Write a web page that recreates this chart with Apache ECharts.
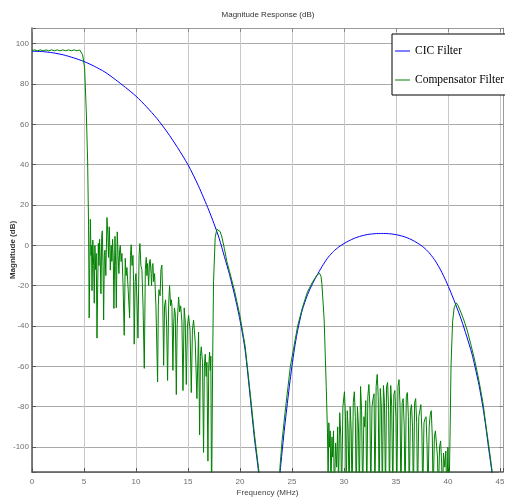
<!DOCTYPE html>
<html><head><meta charset="utf-8">
<script src="https://cdn.jsdelivr.net/npm/echarts@6/dist/echarts.min.js"></script>
<style>html,body{margin:0;padding:0;background:#fff}#c{width:505px;height:497px}</style>
</head><body><div id="c"></div>
<script>
// Tick labels
const xTicks = [0,5,10,15,20,25,30,35,40,45];
const yTicks = [-100,-80,-60,-40,-20,0,20,40,60,80,100];
const seriesNames = ['CIC Filter','Compensator Filter'];

// CIC filter magnitude response [frequency MHz, dB]
const cicResponse = [
[0,96.3],[1,96.1],[2,95.5],[3,94.5],[4,93.0],[5,91.2],[6,88.8],[7,86.0],[8,82.3],[9,78.3],
[10,74.0],[11,68.8],[12,63.0],[13,56.2],[14,48.5],[15,40.0],[16,29.6],[17,17.5],[17.5,10.8],[18,3.5],
[18.5,-5.5],[19,-14.5],[19.5,-25],[20,-37],[20.5,-52],[21,-76],[21.4,-96],[21.8,-113],[22.0,-126],
[23.7,-122],[23.85,-113],[24.1,-100],[24.3,-90],[24.5,-81],[24.75,-70],[25.0,-60],[25.25,-51],[25.5,-43.5],
[25.7,-38.5],[26.0,-32],[26.5,-24.5],[27.0,-18.8],[27.5,-14],[28.0,-9.6],[28.5,-5.8],[29.0,-3.0],[29.5,-0.8],
[30.0,0.9],[30.5,2.3],[31.0,3.5],[31.5,4.4],[32.0,5.1],[32.5,5.55],[33.0,5.8],[33.65,5.9],[34.3,5.8],
[34.8,5.5],[35.3,5.0],[35.8,4.3],[36.3,3.3],[36.8,2.0],[37.3,0.4],[37.8,-1.6],[38.3,-4.3],[38.8,-7.8],
[39.3,-12.2],[39.8,-17.5],[40.3,-23.5],[40.8,-30],[41.3,-37],[41.8,-45],[42.3,-53.5],[42.6,-60],[43.0,-69.5],
[43.36,-80],[43.65,-90],[43.9,-100],[44.25,-113],[44.5,-124]
];

// Compensator filter magnitude response [frequency MHz, dB]
const compResponse = [
[0,96.6],[0.27,96.95],[0.54,96.5],[0.81,96.95],[1.08,96.5],[1.35,96.95],[1.62,96.5],[1.89,96.95],[2.16,96.5],
[2.43,96.95],[2.7,96.5],[2.97,96.95],[3.24,96.5],[3.51,96.95],[3.78,96.5],[4.05,96.95],[4.32,96.5],[4.59,96.9],
[4.74,96.6],[4.87,94.5],[5.06,88],[5.22,66.6],[5.35,41.8],[5.44,10],[5.5,-36],[5.61,12.9],[5.68,-5],[5.73,0],
[5.77,-22.5],[5.85,2.6],[5.93,-10],[5.99,-28.7],[6.05,0],[6.12,-12],[6.18,-4],[6.25,-46],[6.38,1],[6.44,-10],
[6.5,3],[6.57,-8],[6.63,-24],[6.7,4],[6.76,7.2],[6.83,-10],[6.89,-37],[6.96,-5],[7.02,-2.4],[7.1,-15],
[7.21,13.8],[7.3,5],[7.36,-6],[7.43,9.2],[7.48,0],[7.53,-12.3],[7.62,0],[7.68,-8],[7.75,3],[7.82,-8],
[7.88,-31.3],[7.98,4.5],[8.05,-10],[8.11,-31],[8.2,6.7],[8.28,-5],[8.36,-14],[8.43,-2],[8.49,0],[8.57,-8],
[8.65,-4],[8.76,-20],[8.87,-44.6],[8.97,-6.4],[9.05,-15],[9.13,-11],[9.25,-22],[9.39,-36],[9.47,-5],[9.54,0.3],
[9.62,-10],[9.71,-5],[9.77,-18],[9.83,-49],[9.92,-18],[10,-14],[10.1,-28],[10.19,-46],[10.3,-5],[10.38,0.9],
[10.47,-10],[10.57,-12],[10.68,-30],[10.8,-61],[10.9,-12],[10.99,-6],[11.05,-15],[11.12,-9],[11.22,-20],
[11.3,-8],[11.37,-7],[11.45,-14],[11.5,-20],[11.57,-10],[11.63,-9],[11.7,-18],[11.79,-14],[11.92,-30],
[12.08,-67.7],[12.15,-30],[12.21,-22],[12.32,-25],[12.4,-12],[12.49,-9.8],[12.57,-25],[12.66,-59.5],
[12.75,-30],[12.85,-27],[12.95,-40],[13.04,-67],[13.14,-30],[13.23,-20],[13.33,-30],[13.4,-27],[13.46,-30],
[13.55,-62],[13.62,-40],[13.7,-31],[13.78,-34],[13.88,-74],[13.96,-40],[14.1,-25.6],[14.2,-33],[14.3,-30],
[14.42,-38],[14.52,-72],[14.64,-31],[14.74,-38],[14.84,-69],[14.95,-40],[15.06,-34.7],[15.2,-42],[15.32,-73],
[15.43,-42],[15.54,-37],[15.7,-48],[15.86,-76],[16.02,-43],[16.12,-94],[16.2,-55],[16.28,-50.3],[16.4,-58],
[16.5,-102.7],[16.58,-60],[16.66,-54],[16.75,-65],[16.82,-58],[16.92,-107],[17.0,-60],[17.08,-53],[17.15,-62],
[17.2,-55],[17.27,-130],[17.37,-60],[17.46,-18],[17.62,4],[17.78,8],[17.94,8.4],[18.1,6.8],[18.26,4.2],
[18.5,-1.5],[18.74,-8],[19.0,-13],[19.5,-23],[20,-35],[20.5,-50],[21,-74],[21.4,-94],[21.85,-113],[22.1,-130],
[23.75,-125],[23.85,-110],[24.05,-97],[24.4,-80],[24.85,-60],[25.55,-40],[26,-31],[26.5,-23],[27,-18],
[27.4,-14.8],[27.65,-13.8],[27.8,-15.5],[27.88,-19],[28.1,-37],[28.3,-70],[28.42,-93],
[28.48,-118],[28.55,-88],[28.62,-100],[28.68,-92],[28.75,-120],[28.85,-95],[28.92,-105],[29.0,-92],[29.08,-125],
[29.2,-98],[29.3,-110],[29.4,-90],[29.48,-120],[29.6,-83],[29.7,-95],[29.78,-125],[29.9,-80],[30.05,-72.6],
[30.15,-85],[30.22,-125],[30.32,-82],[30.4,-90],[30.5,-125],[30.6,-80],[30.7,-92],[30.78,-125],[30.9,-78],
[31.0,-72.6],[31.1,-85],[31.18,-125],[31.3,-80],[31.4,-90],[31.48,-125],[31.6,-70],[31.7,-82],[31.8,-125],
[31.92,-85],[32.0,-90],[32.1,-77],[32.2,-125],[32.3,-75],[32.4,-69],[32.5,-80],[32.58,-125],[32.7,-80],
[32.8,-76],[32.9,-73.6],[32.98,-125],[33.1,-70],[33.2,-64],[33.3,-75],[33.38,-125],[33.5,-71],[33.6,-80],
[33.7,-125],[33.8,-69.5],[33.9,-78],[34.0,-125],[34.1,-70],[34.2,-68],[34.3,-82],[34.38,-125],[34.5,-69.5],
[34.6,-80],[34.7,-125],[34.8,-74],[34.9,-72],[35.0,-85],[35.08,-125],[35.2,-70],[35.3,-66.6],[35.4,-80],
[35.48,-125],[35.6,-78],[35.7,-76],[35.8,-90],[35.88,-125],[36.0,-75],[36.1,-73],[36.2,-85],[36.28,-125],
[36.4,-82],[36.5,-79],[36.6,-90],[36.68,-125],[36.8,-78],[36.9,-76],[37.0,-88],[37.08,-125],[37.2,-85],
[37.3,-82],[37.4,-79],[37.5,-92],[37.58,-125],[37.7,-88],[37.8,-86],[37.9,-85],[38.0,-100],[38.08,-125],
[38.2,-90],[38.3,-84],[38.4,-82],[38.5,-95],[38.58,-125],[38.7,-95],[38.8,-92],[38.9,-92],[39.0,-105],
[39.08,-125],[39.2,-100],[39.3,-97],[39.4,-108],[39.48,-125],[39.58,-103],[39.7,-110],[39.8,-102],[39.9,-125],
[40.0,-100],[40.08,-125],[40.15,-112],[40.22,-90],[40.3,-60],[40.45,-38],[40.6,-31],[40.8,-28.5],[41.0,-30],
[41.5,-36.5],[41.85,-42],[42.2,-49],[42.6,-57.5],[43.0,-67.5],[43.4,-79],[43.65,-89],[43.95,-100],[44.28,-113],
[44.5,-126]
];

const X_MIN = 0, X_MAX = 45.3, Y_MIN = -112.4, Y_MAX = 107.8;
const near = (v, arr) => arr.some(t => Math.abs(t - v) < 1e-6);

const chart = echarts.init(document.getElementById('c'), null, {renderer: 'canvas'});
const labelFont = {fontSize: 8, color: '#6e6e6e', fontFamily: 'Liberation Sans, Arial, sans-serif'};
chart.setOption({
  animation: false,
  backgroundColor: '#fff',
  title: {
    text: 'Magnitude Response (dB)', left: 268, top: 11, textAlign: 'center', padding: 0,
    textStyle: {fontSize: 8, fontWeight: 'normal', color: '#333', fontFamily: 'Liberation Sans, Arial, sans-serif'}
  },
  legend: {
    data: seriesNames.map(n => ({name: n, icon: 'rect'})),
    orient: 'vertical', left: 392, top: 34,
    itemWidth: 15, itemHeight: 1, itemGap: 13,
    padding: [9, 2, 7, 3],
    backgroundColor: '#fff', borderColor: '#000', borderWidth: 1,
    textStyle: {fontFamily: 'Liberation Serif, Times New Roman, serif', fontSize: 11.5, color: '#000', lineHeight: 16},
    z: 10
  },
  grid: {left: 32, right: 2, top: 28, bottom: 25, containLabel: false, outerBoundsMode: 'none'},
  xAxis: [{
    type: 'value', min: X_MIN, max: X_MAX, interval: 5, position: 'bottom',
    axisLine: {show: true, onZero: false, lineStyle: {color: '#555', width: 1.5}},
    axisTick: {show: true, inside: true, length: 4, lineStyle: {color: '#555'}},
    axisLabel: Object.assign({margin: 6, formatter: v => near(v, xTicks) ? String(Math.round(v)) : ''}, labelFont),
    splitLine: {show: true, lineStyle: {color: '#c8c8c8', width: 1}},
    name: 'Frequency (MHz)', nameLocation: 'middle', nameGap: 17, nameMoveOverlap: false,
    nameTextStyle: {fontSize: 8, color: '#444', fontFamily: 'Liberation Sans, Arial, sans-serif'}
  }, {
    type: 'value', min: X_MIN, max: X_MAX, interval: 5, position: 'top',
    axisLine: {show: true, onZero: false, lineStyle: {color: '#999', width: 1}},
    axisTick: {show: true, inside: true, length: 4, lineStyle: {color: '#888'}},
    axisLabel: {show: false}, splitLine: {show: false}
  }],
  yAxis: [{
    type: 'value', min: Y_MIN, max: Y_MAX, splitNumber: 11, position: 'left',
    axisLine: {show: true, onZero: false, lineStyle: {color: '#555', width: 1.5}},
    axisTick: {show: true, inside: true, length: 4, lineStyle: {color: '#555'}},
    axisLabel: Object.assign({margin: 3, formatter: v => near(v, yTicks) ? String(Math.round(v)) : ''}, labelFont),
    splitLine: {show: true, lineStyle: {color: '#aaaaaa', width: 1}},
    name: 'Magnitude (dB)', nameLocation: 'middle', nameGap: 15, nameMoveOverlap: false,
    nameTextStyle: {fontSize: 8, fontWeight: 'bold', color: '#333', fontFamily: 'Liberation Sans, Arial, sans-serif'}
  }, {
    type: 'value', min: Y_MIN, max: Y_MAX, splitNumber: 11, position: 'right',
    axisLine: {show: true, onZero: false, lineStyle: {color: '#999', width: 1}},
    axisTick: {show: true, inside: true, length: 4, lineStyle: {color: '#888'}},
    axisLabel: {show: false}, splitLine: {show: false}
  }],
  series: [{
    name: seriesNames[0], type: 'line', xAxisIndex: 0, yAxisIndex: 0,
    data: cicResponse, showSymbol: false, symbol: 'none', smooth: 0.25, clip: true,
    lineStyle: {color: '#0000ff', width: 1}, itemStyle: {color: '#0000ff'}, z: 2
  }, {
    name: seriesNames[1], type: 'line', xAxisIndex: 0, yAxisIndex: 0,
    data: compResponse, showSymbol: false, symbol: 'none', clip: true,
    lineStyle: {color: '#008000', width: 1}, itemStyle: {color: '#008000'}, z: 3
  }]
});
</script>
</body></html>
